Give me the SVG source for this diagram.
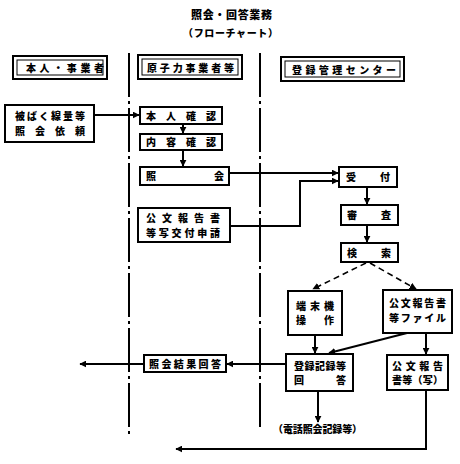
<svg xmlns="http://www.w3.org/2000/svg" width="460" height="464" viewBox="0 0 460 464">
<defs>
<marker id="ah" viewBox="0 0 10 10" refX="9" refY="5" markerWidth="7" markerHeight="7" markerUnits="userSpaceOnUse" orient="auto">
<path d="M0,0 L10,5 L0,10 z" fill="#000"/>
</marker>
<style>
text{font-family:"Noto Sans CJK JP","Noto Sans CJK SC",sans-serif;font-weight:900;fill:#000;font-size:10px}
.t{font-size:11px}
.b{fill:#fff;stroke:#000;stroke-width:2}
.hi{fill:none;stroke:#000;stroke-width:1}
.c{fill:none;stroke:#000;stroke-width:2}
.d{fill:none;stroke:#000;stroke-width:1.6;stroke-dasharray:6 4}
.lane{fill:none;stroke:#000;stroke-width:2;stroke-dasharray:44 4 3 4}
</style>
</defs>
<rect width="460" height="464" fill="#fff"/>
<g id="title">
<text class="t" x="191" y="19" textLength="81" lengthAdjust="spacing">照会・回答業務</text>
<text x="183" y="37" textLength="95" lengthAdjust="spacing">（フローチャート）</text>
</g>
<g id="lanes">
<line class="lane" x1="129" y1="53" x2="129" y2="437"/>
<line class="lane" x1="260" y1="53" x2="260" y2="430"/>
</g>
<g id="h1">
<rect class="b" x="13" y="56" width="94" height="23"/>
<rect class="hi" x="17" y="60" width="86" height="15"/>
<text x="26" y="72" textLength="78" lengthAdjust="spacing">本人・事業者</text>
</g>
<g id="h2">
<rect class="b" x="138" y="55" width="104" height="24"/>
<rect class="hi" x="142" y="59" width="96" height="16"/>
<text x="147" y="72" textLength="87" lengthAdjust="spacing">原子力事業者等</text>
</g>
<g id="h3">
<rect class="b" x="281" y="57" width="123" height="24"/>
<rect class="hi" x="285" y="61" width="115" height="16"/>
<text x="292" y="74" textLength="104" lengthAdjust="spacing">登録管理センター</text>
</g>
<g id="n_req">
<rect class="b" x="5" y="105" width="89" height="37"/>
<text x="15" y="120" textLength="70" lengthAdjust="spacing">被ばく線量等</text>
<text x="15" y="135" textLength="70" lengthAdjust="spacing">照会依頼</text>
</g>
<g id="n_honnin">
<rect class="b" x="140" y="107" width="82" height="17"/>
<text x="146" y="120" textLength="70" lengthAdjust="spacing">本人確認</text>
</g>
<g id="n_naiyo">
<rect class="b" x="140" y="134" width="82" height="16"/>
<text x="146" y="146" textLength="70" lengthAdjust="spacing">内容確認</text>
</g>
<g id="n_shokai">
<rect class="b" x="140" y="167" width="89" height="18"/>
<text x="146" y="180" textLength="78" lengthAdjust="spacing">照会</text>
</g>
<g id="n_kobun">
<rect class="b" x="138" y="208" width="92" height="34"/>
<text x="146" y="222" textLength="74" lengthAdjust="spacing">公文報告書</text>
<text x="146" y="237" textLength="74" lengthAdjust="spacing">等写交付申請</text>
</g>
<g id="n_uketsuke">
<rect class="b" x="339" y="167" width="58" height="20"/>
<text x="346" y="181" textLength="44" lengthAdjust="spacing">受付</text>
</g>
<g id="n_shinsa">
<rect class="b" x="341" y="205" width="57" height="20"/>
<text x="347" y="219" textLength="44" lengthAdjust="spacing">審査</text>
</g>
<g id="n_kensaku">
<rect class="b" x="341" y="243" width="57" height="19"/>
<text x="347" y="257" textLength="44" lengthAdjust="spacing">検索</text>
</g>
<g id="n_tanmatsu">
<rect class="b" x="288" y="291" width="54" height="44"/>
<text x="296" y="310" textLength="38" lengthAdjust="spacing">端末機</text>
<text x="296" y="324" textLength="38" lengthAdjust="spacing">操作</text>
</g>
<g id="n_file">
<rect class="b" x="383" y="290" width="69" height="43"/>
<text x="389" y="307" textLength="57" lengthAdjust="spacing">公文報告書</text>
<text x="389" y="322" textLength="57" lengthAdjust="spacing">等ファイル</text>
</g>
<g id="n_toroku">
<rect class="b" x="286" y="354" width="67" height="37"/>
<text x="294" y="370" textLength="52" lengthAdjust="spacing">登録記録等</text>
<text x="294" y="384" textLength="52" lengthAdjust="spacing">回答</text>
</g>
<g id="n_kobunsha">
<rect class="b" x="387" y="355" width="61" height="35"/>
<text x="392" y="370" textLength="51" lengthAdjust="spacing">公文報告</text>
<text x="392" y="384" textLength="51" lengthAdjust="spacing">書等（写）</text>
</g>
<g id="n_kekka">
<rect class="b" x="144" y="355" width="82" height="17"/>
<text x="149" y="368" textLength="72" lengthAdjust="spacing">照会結果回答</text>
</g>
<g id="n_tel">
<text x="273" y="433" textLength="89" lengthAdjust="spacing">（電話照会記録等）</text>
</g>
<g id="connectors">
<line class="c" x1="94" y1="115" x2="139" y2="115" marker-end="url(#ah)"/>
<line class="c" x1="183" y1="124" x2="183" y2="133" marker-end="url(#ah)"/>
<line class="c" x1="183" y1="150" x2="183" y2="166" marker-end="url(#ah)"/>
<line class="c" x1="229" y1="173" x2="338" y2="173" marker-end="url(#ah)"/>
<polyline class="c" points="230,226 300,226 300,181 338,181" marker-end="url(#ah)"/>
<line class="c" x1="367" y1="187" x2="367" y2="204" marker-end="url(#ah)"/>
<line class="c" x1="367" y1="225" x2="367" y2="242" marker-end="url(#ah)"/>
<line class="d" x1="366" y1="263" x2="313" y2="289" marker-end="url(#ah)"/>
<line class="d" x1="370" y1="263" x2="416" y2="289" marker-end="url(#ah)"/>
<line class="c" x1="315" y1="335" x2="315" y2="353" marker-end="url(#ah)"/>
<line class="c" x1="407" y1="333" x2="329" y2="353" marker-end="url(#ah)"/>
<line class="c" x1="426" y1="333" x2="426" y2="354" marker-end="url(#ah)"/>
<line class="c" x1="286" y1="364" x2="227" y2="364" marker-end="url(#ah)"/>
<line class="c" x1="144" y1="364" x2="80" y2="364" marker-end="url(#ah)"/>
<line class="c" x1="318" y1="391" x2="318" y2="422" marker-end="url(#ah)"/>
<polyline class="c" points="426,390 426,449 176,449" marker-end="url(#ah)"/>
</g>
</svg>
